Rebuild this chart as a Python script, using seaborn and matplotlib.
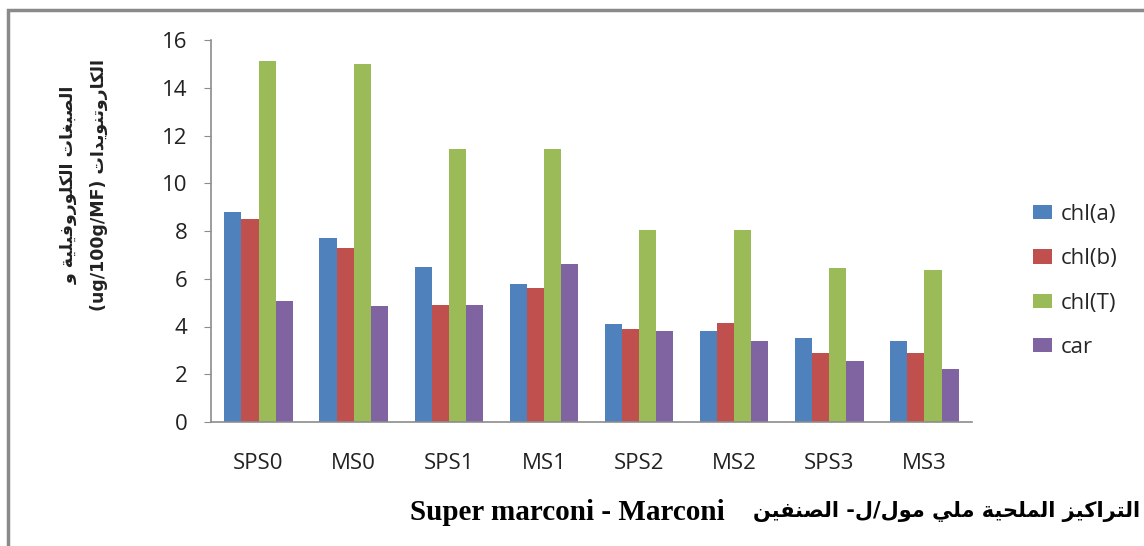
import pandas as pd
import matplotlib.pyplot as plt
import seaborn as sns
from matplotlib.patches import Rectangle

categories = ["SPS0", "MS0", "SPS1", "MS1", "SPS2", "MS2", "SPS3", "MS3"]
chl_a = [8.8, 7.7, 6.5, 5.8, 4.1, 3.8, 3.5, 3.4]
chl_b = [8.5, 7.3, 4.9, 5.6, 3.9, 4.15, 2.9, 2.9]
chl_t = [15.1, 15.0, 11.45, 11.45, 8.05, 8.05, 6.45, 6.35]
car = [5.05, 4.85, 4.9, 6.6, 3.8, 3.4, 2.55, 2.2]
series_names = ["chl(a)", "chl(b)", "chl(T)", "car"]
colors = ["#4F81BD", "#C0504D", "#9BBB59", "#8064A2"]

xlabel_ar = "التراكيز الملحية ملي مول/ل- الصنفين"
xlabel_lat = "Super marconi - Marconi"
ylabel_ar1 = "الصبغات الكلوروفيلية و"
ylabel_ar2 = "الكاروتنويدات"
ylabel_unit = "(ug/100g/MF)"

# Arabic presentation forms (isolated, final, initial, medial) -- matplotlib does no shaping
FORMS = {
    "ا": (0xFE8D, 0xFE8E), "ب": (0xFE8F, 0xFE90, 0xFE91, 0xFE92),
    "ة": (0xFE93, 0xFE94), "ت": (0xFE95, 0xFE96, 0xFE97, 0xFE98),
    "ح": (0xFEA1, 0xFEA2, 0xFEA3, 0xFEA4), "د": (0xFEA9, 0xFEAA),
    "ر": (0xFEAD, 0xFEAE), "ز": (0xFEAF, 0xFEB0),
    "ص": (0xFEB9, 0xFEBA, 0xFEBB, 0xFEBC), "غ": (0xFECD, 0xFECE, 0xFECF, 0xFED0),
    "ف": (0xFED1, 0xFED2, 0xFED3, 0xFED4), "ك": (0xFED9, 0xFEDA, 0xFEDB, 0xFEDC),
    "ل": (0xFEDD, 0xFEDE, 0xFEDF, 0xFEE0), "م": (0xFEE1, 0xFEE2, 0xFEE3, 0xFEE4),
    "ن": (0xFEE5, 0xFEE6, 0xFEE7, 0xFEE8), "و": (0xFEED, 0xFEEE),
    "ي": (0xFEF1, 0xFEF2, 0xFEF3, 0xFEF4),
}


def rtl(s):
    out = []
    for i, c in enumerate(s):
        if c not in FORMS:
            out.append(c)
            continue
        prev = s[i - 1] if i > 0 else ""
        nxt = s[i + 1] if i + 1 < len(s) else ""
        f = FORMS[c]
        jp = prev in FORMS and len(FORMS[prev]) == 4
        jn = nxt in FORMS and len(f) == 4
        if jp and jn:
            g = f[3]
        elif jp:
            g = f[1]
        elif jn:
            g = f[2]
        else:
            g = f[0]
        out.append(chr(g))
    return "".join(out)[::-1]


df = pd.DataFrame({"cat": categories * 4,
                   "series": [n for n in series_names for _ in categories],
                   "val": chl_a + chl_b + chl_t + car})

sns.set_style("white")
plt.rcParams["font.family"] = ["Open Sans", "DejaVu Sans"]

fig = plt.figure(figsize=(11.44, 5.46), dpi=100)
ax = fig.add_axes([211 / 1144, 1 - 422 / 546, (972 - 211) / 1144, (422 - 40) / 546])

sns.barplot(data=df, x="cat", y="val", hue="series", palette=colors,
            width=0.72, saturation=1, ax=ax, edgecolor="none")

ax.set_xlim(-0.5, 7.5)
ax.set_ylim(0, 16)
ax.set_yticks(range(0, 17, 2))
ax.set_xlabel("")
ax.set_ylabel("")
for s in ["top", "right"]:
    ax.spines[s].set_visible(False)
for s in ["left", "bottom"]:
    ax.spines[s].set_color("#8c8c8c")
    ax.spines[s].set_linewidth(1.2)
ax.tick_params(axis="y", left=True, length=5, color="#8c8c8c", pad=12,
               labelsize=16, labelcolor="#222222")
ax.tick_params(axis="x", bottom=False, pad=19, labelsize=16, labelcolor="#222222")

ax.legend(loc="center left", bbox_to_anchor=(1013 / 1144, 1 - 281 / 546),
          bbox_transform=fig.transFigure, frameon=False, fontsize=16,
          labelspacing=1.05, handlelength=0.85, handleheight=0.6, handletextpad=0.4)

fig.text(84 / 1144, 1 - 185 / 546,
         rtl(ylabel_ar1) + "\n" + ylabel_unit + " " + rtl(ylabel_ar2),
         rotation=90, ha="center", va="center", fontsize=12.5, fontweight="bold",
         family=["DejaVu Sans"], linespacing=1.9, color="#222222")

fig.text(410 / 1144, 1 - 513 / 546, xlabel_lat,
         ha="left", va="center", fontsize=21, fontweight="bold",
         family=["Liberation Serif"], color="black")
fig.text(1140 / 1144, 1 - 512 / 546, rtl(xlabel_ar),
         ha="right", va="center", fontsize=15, fontweight="bold",
         family=["DejaVu Sans"], color="black")

fig.patches.append(Rectangle((8 / 1144, -0.2), 1.5, 1.2 - 10 / 546,
                             transform=fig.transFigure, fill=False,
                             edgecolor="#8a8a8a", linewidth=2.5))

fig.savefig("out.png", dpi=100)
